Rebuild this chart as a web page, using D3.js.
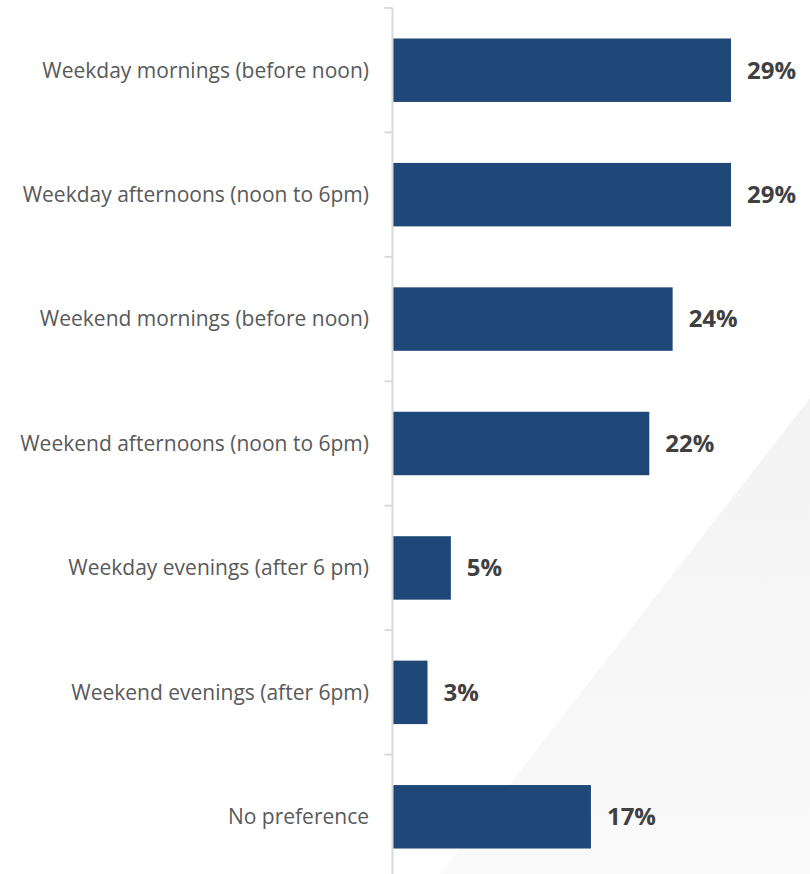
<!DOCTYPE html>
<html>
<head>
<meta charset="utf-8">
<script src="https://cdn.jsdelivr.net/npm/d3@7"></script>
<style>
  html, body { margin: 0; padding: 0; background: #ffffff; }
  svg { display: block; }
</style>
</head>
<body>
<svg id="chart" width="810" height="874"></svg>
<script>
// Preferred time slots and share of respondents (%)
const categories = [
  "Weekday mornings (before noon)",
  "Weekday afternoons (noon to 6pm)",
  "Weekend mornings (before noon)",
  "Weekend afternoons (noon to 6pm)",
  "Weekday evenings (after 6 pm)",
  "Weekend evenings (after 6pm)",
  "No preference"
];
const values = [29, 29, 24, 22, 5, 3, 17];
const valueLabels = ["29%", "29%", "24%", "22%", "5%", "3%", "17%"];

const W = 810, H = 874;
const svg = d3.select("#chart");

// soft diagonal panel in the lower right
const defs = svg.append("defs");
const grad = defs.append("linearGradient")
  .attr("id", "panelFade").attr("x1", "0").attr("y1", "0").attr("x2", "0").attr("y2", "1");
grad.append("stop").attr("offset", "0%").attr("stop-color", "#f3f3f3");
grad.append("stop").attr("offset", "100%").attr("stop-color", "#fafafa");
svg.append("path")
  .attr("d", "M810,398 L440,874 L810,874 Z")
  .attr("fill", "url(#panelFade)");

const axisX = 392.5;
const x = d3.scaleLinear().domain([0, 29]).range([axisX, 731]);
const y = d3.scaleBand().domain(categories).range([8, 879]).paddingInner(0.49).paddingOuter(0.245);

// bars
svg.append("g").selectAll("rect")
  .data(values)
  .join("rect")
  .attr("x", x(0))
  .attr("y", (d, i) => y(categories[i]))
  .attr("width", d => x(d) - x(0))
  .attr("height", y.bandwidth())
  .attr("fill", "#1f4778");

// vertical axis with ticks on the category boundaries
const step = y.step();
const boundaries = d3.range(categories.length + 1).map(i => y(categories[0]) - y.paddingOuter() * step + i * step);
const axisG = svg.append("g");
axisG.append("line")
  .attr("x1", axisX).attr("x2", axisX)
  .attr("y1", boundaries[0]).attr("y2", H)
  .attr("stroke", "#d9d9d9").attr("stroke-width", 2);
axisG.selectAll("line.tick")
  .data(boundaries)
  .join("line")
  .attr("class", "tick")
  .attr("x1", axisX - 8).attr("x2", axisX)
  .attr("y1", d => d).attr("y2", d => d)
  .attr("stroke", "#d9d9d9").attr("stroke-width", 2);

// category labels
svg.append("g").selectAll("text")
  .data(categories)
  .join("text")
  .attr("x", 369)
  .attr("y", d => y(d) + y.bandwidth() / 2)
  .attr("dy", "0.35em")
  .attr("text-anchor", "end")
  .attr("font-family", "'Open Sans', sans-serif")
  .attr("font-size", 21)
  .attr("fill", "#595959")
  .text(d => d);

// value labels
svg.append("g").selectAll("text")
  .data(values)
  .join("text")
  .attr("x", d => x(d) + 16)
  .attr("y", (d, i) => y(categories[i]) + y.bandwidth() / 2)
  .attr("dy", "0.35em")
  .attr("font-family", "'Open Sans', sans-serif")
  .attr("font-weight", "bold")
  .attr("font-size", 24)
  .attr("fill", "#404040")
  .text((d, i) => valueLabels[i]);
</script>
</body>
</html>
